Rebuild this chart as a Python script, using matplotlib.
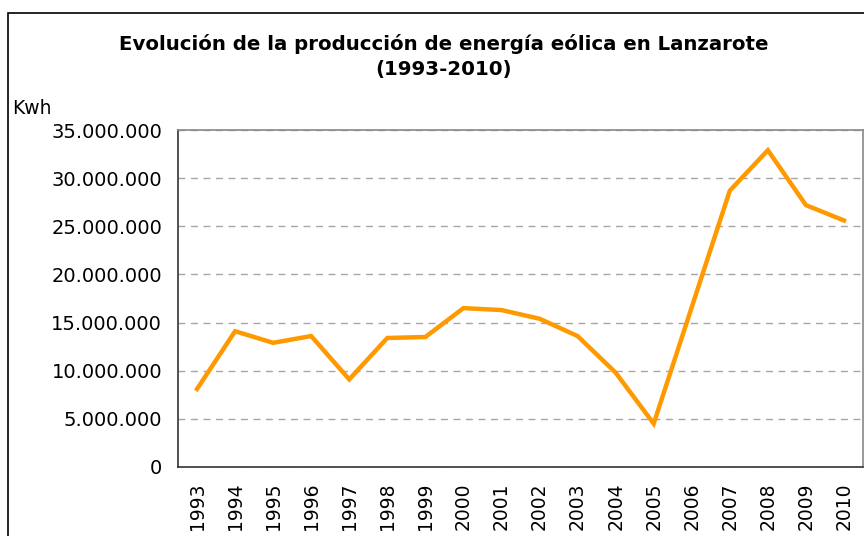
import matplotlib
matplotlib.use("Agg")
import matplotlib.pyplot as plt
from matplotlib.ticker import FuncFormatter

years = [str(y) for y in range(1993, 2011)]
kwh = [8.1e6, 14.1e6, 12.9e6, 13.6e6, 9.1e6, 13.4e6, 13.5e6, 16.5e6, 16.3e6,
       15.4e6, 13.6e6, 9.8e6, 4.5e6, 16.6e6, 28.7e6, 32.9e6, 27.2e6, 25.6e6]

fig = plt.figure(figsize=(8.64, 5.36), dpi=100)
ax = fig.add_axes([178 / 864, 1 - 467 / 536, 685 / 864, 337 / 536])

x = range(len(years))
ax.plot(x, kwh, color="#FF9900", lw=3.2, solid_joinstyle="miter", zorder=3)

ax.set_xlim(-0.5, len(years) - 0.5)
ax.set_ylim(0, 35e6)
ax.set_yticks(range(0, 35000001, 5000000))
ax.yaxis.set_major_formatter(FuncFormatter(lambda v, p: f"{int(v):,}".replace(",", ".")))
ax.set_xticks(list(x))
ax.set_xticklabels(years, rotation=90)
ax.tick_params(axis="both", length=0)
ax.tick_params(axis="x", pad=11, labelsize=13.5)
ax.tick_params(axis="y", pad=11.5, labelsize=14)

ax.grid(axis="y", color="#A6A6A6", ls=(0, (5, 4)), lw=1)
ax.set_axisbelow(True)
ax.spines["left"].set_color("#333333")
ax.spines["bottom"].set_color("#333333")
ax.spines["top"].set_color("#888888")
ax.spines["right"].set_color("#888888")
for s in ax.spines.values():
    s.set_linewidth(1.2)

fig.text(444 / 864, 1 - 44 / 536, "Evolución de la producción de energía eólica en Lanzarote",
         ha="center", va="center", fontsize=14.2, fontweight="bold")
fig.text(444 / 864, 1 - 70 / 536, "(1993-2010)",
         ha="center", va="center", fontsize=14.2, fontweight="bold")
fig.text(12 / 864, 1 - 108 / 536, "Kwh", ha="left", va="center", fontsize=13.5)

# outer chart border
fig.patches.append(plt.Rectangle((8 / 864, -0.05), 2, 1 - 13 / 536 + 0.05,
                                 transform=fig.transFigure, fill=False,
                                 ec="black", lw=1.2))

fig.savefig("out.png", dpi=100)
